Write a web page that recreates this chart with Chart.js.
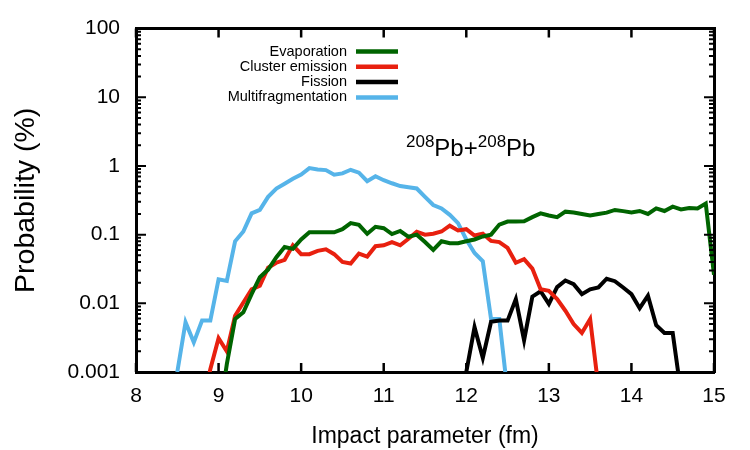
<!DOCTYPE html>
<html lang="en">
<head>
  <meta charset="UTF-8">
  <title>Pb+Pb probabilities</title>
  <script src="https://cdn.jsdelivr.net/npm/chart.js"></script>
  <style>
    body { margin: 0; background: #fff; }
    #wrap { width: 750px; height: 450px; }
  </style>
</head>
<body>
  <div id="wrap"><canvas id="chart" width="750" height="450"></canvas></div>

  <script>
    // impact parameter b (fm), 0.1 fm steps
    const impact = [8.5, 8.6, 8.7, 8.8, 8.9, 9.0, 9.1, 9.2, 9.3, 9.4, 9.5, 9.6, 9.7, 9.8, 9.9,
      10.0, 10.1, 10.2, 10.3, 10.4, 10.5, 10.6, 10.7, 10.8, 10.9,
      11.0, 11.1, 11.2, 11.3, 11.4, 11.5, 11.6, 11.7, 11.8, 11.9,
      12.0, 12.1, 12.2, 12.3, 12.4, 12.5, 12.6, 12.7, 12.8, 12.9,
      13.0, 13.1, 13.2, 13.3, 13.4, 13.5, 13.6, 13.7, 13.8, 13.9,
      14.0, 14.1, 14.2, 14.3, 14.4, 14.5, 14.6, 14.7, 14.8, 14.9, 15.0];

    const evaporation = [null, null, null, null, null, 0.0002, 0.0013, 0.0059, 0.0074, 0.0136, 0.024, 0.031, 0.047, 0.066, 0.062,
      0.085, 0.108, 0.108, 0.108, 0.108, 0.12, 0.147, 0.139, 0.103, 0.13,
      0.124, 0.102, 0.113, 0.093, 0.1, 0.078, 0.06, 0.08, 0.075, 0.075,
      0.08, 0.085, 0.094, 0.1, 0.14, 0.155, 0.155, 0.157, 0.18, 0.204,
      0.19, 0.18, 0.216, 0.21, 0.2, 0.19, 0.2, 0.209, 0.229, 0.22,
      0.21, 0.221, 0.2, 0.241, 0.221, 0.255, 0.233, 0.245, 0.241, 0.284, 0.026];

    const cluster = [null, null, null, 0.0003, 0.0011, 0.0031, 0.002, 0.0066, 0.0103, 0.016, 0.018, 0.033, 0.039, 0.043, 0.07,
      0.052, 0.052, 0.058, 0.061, 0.052, 0.04, 0.038, 0.053, 0.048, 0.068,
      0.07, 0.078, 0.07, 0.087, 0.11, 0.1, 0.103, 0.111, 0.135, 0.115,
      0.12, 0.097, 0.103, 0.081, 0.078, 0.064, 0.039, 0.044, 0.032, 0.016,
      0.0152, 0.0115, 0.0078, 0.005, 0.0037, 0.0059, 0.0006];

    const fission = [null, null, null, null, null, null, null, null, null, null, null, null, null, null, null,
      null, null, null, null, null, null, null, null, null, null,
      null, null, null, null, null, null, null, null, null, 0.0003,
      0.001, 0.0045, 0.0016, 0.0054, 0.0056, 0.0056, 0.0115, 0.0029, 0.0125, 0.015,
      0.0098, 0.0172, 0.0215, 0.019, 0.0136, 0.016, 0.017, 0.0228, 0.021, 0.017,
      0.0136, 0.0085, 0.0129, 0.0048, 0.0037, 0.0037, 0.0005];

    const multifrag = [0.001, 0.0053, 0.0027, 0.0056, 0.0056, 0.0224, 0.0212, 0.08, 0.111, 0.204, 0.229, 0.355, 0.468, 0.55, 0.65,
      0.75, 0.93, 0.89, 0.87, 0.745, 0.78, 0.88, 0.8, 0.6, 0.71,
      0.62, 0.56, 0.51, 0.49, 0.47, 0.355, 0.27, 0.24, 0.194, 0.147,
      0.085, 0.054, 0.041, 0.0059, 0.0059, 0.0005];

    const yTicks = [0.001, 0.01, 0.1, 1, 10, 100];
    const xTicks = [8, 9, 10, 11, 12, 13, 14, 15];

    const FONT = '"Liberation Sans", Arial, sans-serif';

    function pts(ys) {
      return ys.map((y, i) => ({ x: impact[i], y: y }));
    }

    function series(label, ys, color) {
      return {
        label: label,
        data: pts(ys),
        borderColor: color,
        backgroundColor: color,
        borderWidth: 4,
        pointRadius: 0,
        tension: 0,
        spanGaps: false
      };
    }

    // inward ticks on all four sides, like the original frame
    const frameTicks = {
      id: 'frameTicks',
      afterDatasetsDraw(chart) {
        const { ctx, chartArea: a, scales } = chart;
        ctx.save();
        ctx.strokeStyle = '#000';
        ctx.lineWidth = 2.5;
        xTicks.forEach(v => {
          const px = scales.x.getPixelForValue(v);
          ctx.beginPath();
          ctx.moveTo(px, a.bottom); ctx.lineTo(px, a.bottom - 9);
          ctx.moveTo(px, a.top); ctx.lineTo(px, a.top + 9);
          ctx.stroke();
        });
        ctx.lineWidth = 2;
        for (let e = -3; e <= 2; e++) {
          for (let m = 1; m <= 9; m++) {
            const v = m * Math.pow(10, e);
            if (e === 2 && m > 1) continue;
            const py = scales.y.getPixelForValue(v);
            const len = m === 1 ? 10 : 5;
            ctx.beginPath();
            ctx.moveTo(a.left, py); ctx.lineTo(a.left + len, py);
            ctx.moveTo(a.right, py); ctx.lineTo(a.right - len, py);
            ctx.stroke();
          }
        }
        ctx.restore();
      }
    };

    // gnuplot style key: text right aligned, sample line to its right
    const keyBox = {
      id: 'keyBox',
      afterDraw(chart) {
        const ctx = chart.ctx;
        ctx.save();
        ctx.font = '14.5px ' + FONT;
        ctx.textAlign = 'right';
        ctx.textBaseline = 'middle';
        chart.data.datasets.forEach((ds, i) => {
          const y = 51.5 + i * 15.3;
          ctx.fillStyle = '#000';
          ctx.fillText(ds.label, 347, y);
          ctx.strokeStyle = ds.borderColor;
          ctx.lineWidth = 4.5;
          ctx.beginPath();
          ctx.moveTo(356, y); ctx.lineTo(398, y);
          ctx.stroke();
        });

        // reaction label 208Pb+208Pb
        ctx.textAlign = 'left';
        ctx.textBaseline = 'alphabetic';
        let x = 406;
        const base = 156;
        const parts = [['208', true], ['Pb+', false], ['208', true], ['Pb', false]];
        parts.forEach(([t, sup]) => {
          ctx.font = (sup ? '17px ' : '24px ') + FONT;
          ctx.fillText(t, x, sup ? base - 9 : base);
          x += ctx.measureText(t).width;
        });
        ctx.restore();
      }
    };

    new Chart(document.getElementById('chart'), {
      type: 'line',
      data: {
        datasets: [
          series('Evaporation', evaporation, '#006400'),
          series('Cluster emission', cluster, '#e8200f'),
          series('Fission', fission, '#000000'),
          series('Multifragmentation', multifrag, '#56b4e9')
        ]
      },
      options: {
        responsive: false,
        animation: false,
        layout: { padding: { top: 25, right: 36, left: 0, bottom: 0 } },
        plugins: {
          legend: { display: false },
          tooltip: { enabled: false }
        },
        scales: {
          x: {
            type: 'linear',
            min: 8,
            max: 15,
            afterBuildTicks: s => { s.ticks = xTicks.map(v => ({ value: v })); },
            grid: { display: false, drawTicks: false },
            border: { display: true, color: '#000', width: 3 },
            ticks: {
              color: '#000',
              font: { family: FONT, size: 21 },
              padding: 12,
              maxRotation: 0
            },
            title: {
              display: true,
              text: 'Impact parameter (fm)',
              color: '#000',
              font: { family: FONT, size: 23 },
              padding: { top: 0, bottom: 0 }
            },
            afterFit: s => { s.height = 78; }
          },
          y: {
            type: 'logarithmic',
            min: 0.001,
            max: 100,
            afterBuildTicks: s => { s.ticks = yTicks.map(v => ({ value: v })); },
            grid: { display: false, drawTicks: false },
            border: { display: true, color: '#000', width: 3 },
            ticks: {
              color: '#000',
              font: { family: FONT, size: 21 },
              padding: 16,
              callback: v => String(v)
            },
            title: {
              display: true,
              text: 'Probability (%)',
              color: '#000',
              font: { family: FONT, size: 28.5 },
              padding: { top: 9, bottom: 0 }
            },
            afterFit: s => { s.width = 136; }
          },
          x2: {
            type: 'linear', position: 'top', min: 8, max: 15, display: true,
            grid: { display: false, drawTicks: false },
            border: { display: true, color: '#000', width: 3 },
            ticks: { display: false },
            afterFit: s => { s.height = 0; }
          },
          y2: {
            type: 'logarithmic', position: 'right', min: 0.001, max: 100, display: true,
            grid: { display: false, drawTicks: false },
            border: { display: true, color: '#000', width: 3 },
            ticks: { display: false },
            afterFit: s => { s.width = 0; }
          }
        }
      },
      plugins: [frameTicks, keyBox]
    });
  </script>
</body>
</html>
